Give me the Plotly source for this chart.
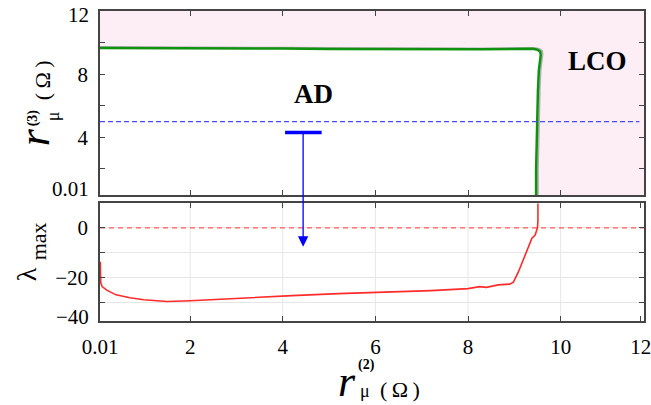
import plotly.graph_objects as go

# ---- data ----
green_x = [0.01, 1.0, 2.0, 3.0, 4.0, 5.0, 6.0, 7.0, 7.6, 8.3, 9.0, 9.3, 9.4, 9.5, 9.56, 9.57, 9.55, 9.53, 9.51, 9.49, 9.48, 9.47, 9.47]
green_y = [9.66, 9.66, 9.65, 9.64, 9.62, 9.6, 9.58, 9.56, 9.55, 9.57, 9.6, 9.62, 9.61, 9.55, 9.42, 9.2, 8.8, 8.25, 7.0, 5.08, 3.5, 1.9, 0.2]

red_x = [0.06, 0.07, 0.1, 0.2, 0.4, 0.7, 1.0, 1.5, 2.0, 2.5, 3.2, 4.2, 5.2, 6.3, 7.2, 8.0, 8.25, 8.4, 8.65, 8.9, 8.98, 9.09, 9.25, 9.38, 9.45, 9.5, 9.51, 9.51]
red_y = [-13.6, -22.0, -23.6, -25.0, -26.9, -28.1, -28.9, -29.6, -29.3, -28.8, -28.0, -27.2, -26.4, -25.8, -25.2, -24.4, -23.6, -23.9, -22.9, -22.6, -21.8, -17.6, -10.0, -4.2, -2.9, 0.0, 3.0, 12.0]

threshold_r3 = 5.0
lambda_zero = 0.0
x_range = [0.054, 11.8]
y1_range = [0.34, 12]
y2_range = [-37.4, 9.8]
x_tickvals = [0.055, 2, 4, 6, 8, 10, 11.73]
x_ticktext = ["0.01", "2", "4", "6", "8", "10", "12"]
x_gridvals = [2, 4, 6, 8, 10]
y1_tickvals = [2, 4, 6, 8, 10]
y1_ticktext = ["", "4", "", "8", ""]
y2_tickvals = [-30, -20, -10, 0]
y2_ticktext = ["", "\u221220", "", "0"]
bar_x = [4.05, 4.84]
bar_y = 4.3
arrow_x = 4.44
arrow_tip_y = -7.6

FONT = "Liberation Serif"
PINK = "#fdeef5"

fig = go.Figure()

# white region enclosed by the green boundary (AD region)
fig.add_trace(go.Scatter(x=green_x, y=green_y, xaxis="x", yaxis="y", mode="lines",
                         line=dict(width=0), fill="tozeroy", fillcolor="white",
                         hoverinfo="skip", showlegend=False))
# grey shadow line
fig.add_trace(go.Scatter(x=[v + 0.04 for v in green_x], y=[v + 0.06 for v in green_y],
                         xaxis="x", yaxis="y", mode="lines",
                         line=dict(color="#b0b0b0", width=1.8), showlegend=False))
# green boundary
fig.add_trace(go.Scatter(x=green_x, y=green_y, xaxis="x", yaxis="y", mode="lines",
                         line=dict(color="#0f920f", width=2.5), showlegend=False))
# blue dashed threshold
fig.add_trace(go.Scatter(x=[x_range[0], 11.7], y=[threshold_r3, threshold_r3], xaxis="x", yaxis="y",
                         mode="lines", line=dict(color="#4a4aff", width=1.2, dash="5px,3px"),
                         showlegend=False))
# blue bar
fig.add_trace(go.Scatter(x=bar_x, y=[bar_y, bar_y], xaxis="x", yaxis="y", mode="lines",
                         line=dict(color="#0000ff", width=3.5), showlegend=False))

# red dashed zero line
fig.add_trace(go.Scatter(x=[x_range[0], x_range[1]], y=[lambda_zero, lambda_zero], xaxis="x2", yaxis="y2",
                         mode="lines", line=dict(color="#ff5a5a", width=1.3, dash="5px,4px"),
                         showlegend=False))
# red lambda max curve
fig.add_trace(go.Scatter(x=red_x, y=red_y, xaxis="x2", yaxis="y2", mode="lines",
                         line=dict(color="#ff2a2a", width=1.6), showlegend=False))

L, R, T, B = 100, 7.3, 10.7, 84
H = 405
plot_h = H - T - B

axis_common = dict(showline=True, linecolor="#444", linewidth=1.5, mirror="ticks",
                   ticks="inside", ticklen=5, tickcolor="#444", zeroline=False,
                   automargin=False, ticklabeloverflow="allow",
                   tickfont=dict(family=FONT, size=21, color="black"))

fig.update_layout(
    width=651, height=405,
    font=dict(family=FONT, color="black"),
    margin=dict(l=L, r=R, t=T, b=B, pad=0, autoexpand=False),
    paper_bgcolor="white", plot_bgcolor="white",
    xaxis=dict(domain=[0, 1], range=x_range, anchor="y", tickvals=x_gridvals,
               showticklabels=False, showgrid=False, **axis_common),
    yaxis=dict(domain=[(321 - 195) / plot_h, 1], range=y1_range, anchor="x",
               tickvals=y1_tickvals, ticktext=y1_ticktext, showgrid=False,
               ticklabelstandoff=6, **axis_common),
    xaxis2=dict(domain=[0, 1], range=x_range, anchor="y2", tickvals=x_tickvals,
                ticktext=x_ticktext, showgrid=False, ticklabelstandoff=6, **axis_common),
    yaxis2=dict(domain=[0, (321 - 203.3) / plot_h], range=y2_range, anchor="x2",
                tickvals=y2_tickvals, ticktext=y2_ticktext, showgrid=True,
                gridcolor="#e6e6e6", gridwidth=1, ticklabelstandoff=6, **axis_common),
    shapes=[dict(type="rect", xref="x", yref="y", x0=x_range[0], x1=x_range[1],
                 y0=y1_range[0], y1=y1_range[1], fillcolor=PINK, line=dict(width=0),
                 layer="below")]
    + [dict(type="line", xref="x2", yref="y2 domain", x0=g, x1=g, y0=0, y1=1,
            line=dict(color="#e6e6e6", width=1), layer="below") for g in x_gridvals],
)

def pix(px, py, text, size, angle=0, bold=False, italic=False, color="black", anchor="center"):
    t = text
    if bold:
        t = "<b>" + t + "</b>"
    if italic:
        t = "<i>" + t + "</i>"
    fig.add_annotation(x=0, y=1, xref="paper", yref="paper", xanchor=anchor, yanchor="middle",
                       xshift=px - L, yshift=-(py - T), text=t, showarrow=False,
                       textangle=angle, font=dict(family=FONT, size=size, color=color))

# region labels
pix(313, 94, "AD", 27, bold=True)
pix(597, 61, "LCO", 27, bold=True)
# edge tick labels
pix(91, 15, "12", 21, anchor="right")
pix(91, 189, "0.01", 21, anchor="right")
pix(91, 317, "\u221240", 21, anchor="right")

# top y title
pix(34, 137, "r", 44, angle=-90, italic=True)
pix(33, 118, "(3)", 14, angle=-90, bold=True)
pix(53, 116, "\u03bc", 18, angle=-90)
pix(42, 80, "(\u2009\u03a9\u2009)", 22, angle=-90)

# bottom y title
pix(26, 274, "\u03bb", 28, angle=-90)
pix(38, 241, "max", 22, angle=-90)

# x title
pix(347, 381, "r", 44, italic=True)
pix(366, 365, "(2)", 14, bold=True)
pix(365, 391, "\u03bc", 18)
pix(400, 389, "(\u2009\u03a9\u2009)", 22)

# arrow from bar down into lambda panel
fig.add_annotation(x=arrow_x, y=arrow_tip_y, xref="x2", yref="y2", ax=0, ay=-(246.7 - 132.3),
                   axref="pixel", ayref="pixel", showarrow=True, arrowhead=2, arrowsize=1.6,
                   arrowwidth=1.3, arrowcolor="#0000ff", text="")

fig.write_html("out.html", config={"displayModeBar": False},
               post_script="document.body.style.margin='0';document.body.style.padding='0';")
